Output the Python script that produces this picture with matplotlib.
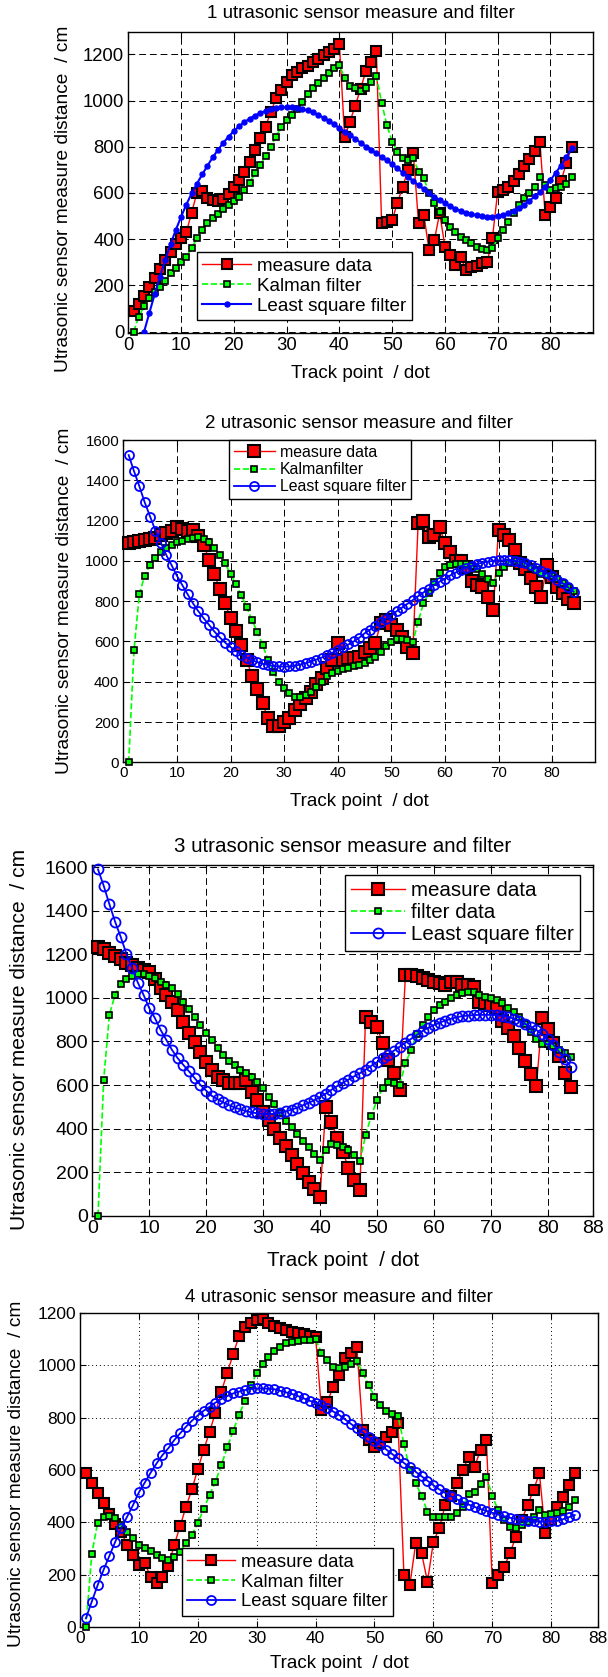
import numpy as np
import matplotlib
matplotlib.use("Agg")
import matplotlib.pyplot as plt

plt.rcParams['font.family'] = ['Liberation Sans', 'DejaVu Sans']

W, H = 608, 1677

track = list(range(1, 85))

# panel 1
meas_1 = [90, 120, 155, 195, 230, 270, 310, 345, 380, 405,
          430, 515, 600, 610, 580, 570, 565, 575, 595, 625,
          655, 690, 735, 785, 837, 887, 950, 1010, 1046, 1082,
          1110, 1125, 1140, 1150, 1165, 1180, 1195, 1210, 1225, 1245,
          841, 909, 977, 1050, 1126, 1168, 1216, 470, 476, 483,
          557, 627, 700, 772, 470, 505, 353, 396, 513, 368,
          332, 289, 323, 267, 281, 285, 296, 300, 405, 606,
          612, 625, 650, 680, 715, 745, 780, 820, 505, 541,
          578, 650, 729, 798]
kal_1 = [0, 65, 110, 145, 173, 195, 220, 252, 274, 303,
         325, 360, 404, 440, 469, 490, 510, 530, 550, 565,
         584, 613, 645, 685, 721, 760, 800, 844, 887, 915,
         937, 965, 995, 1028, 1053, 1075, 1096, 1118, 1139, 1155,
         1096, 1063, 1053, 1043, 1053, 1082, 1106, 991, 894, 822,
         779, 750, 743, 750, 692, 664, 599, 556, 519, 483,
         454, 433, 411, 397, 382, 368, 356, 353, 360, 404,
         440, 476, 512, 548, 577, 599, 627, 670, 635, 612,
         620, 627, 641, 670]
lsq_1 = [-175, -85, 0, 82, 162, 238, 310, 378, 440, 497,
         550, 598, 640, 680, 718, 754, 787, 817, 844, 868,
         889, 907, 922, 935, 946, 955, 962, 967, 970, 971,
         970, 967, 963, 957, 950, 938, 926, 912, 897, 881,
         866, 851, 835, 818, 801, 786, 771, 756, 741, 724,
         706, 688, 670, 652, 634, 617, 600, 584, 569, 555,
         543, 532, 523, 515, 509, 504, 500, 498, 498, 500,
         505, 513, 523, 535, 549, 566, 585, 605, 627, 655,
         688, 718, 755, 794]

# panel 2
meas_2 = [1090, 1092, 1097, 1103, 1108, 1115, 1130, 1140, 1150, 1170,
          1160, 1150, 1155, 1125, 1080, 1005, 935, 860, 790, 715,
          650, 582, 510, 430, 362, 293, 218, 182, 180, 200,
          218, 260, 290, 320, 350, 390, 420, 470, 510, 590,
          508, 516, 519, 524, 549, 566, 590, 690, 706, 680,
          657, 620, 574, 541, 1186, 1199, 1120, 1130, 1169, 1087,
          1045, 1000, 1000, 970, 900, 880, 870, 822, 756, 1153,
          1130, 1103, 1054, 988, 960, 913, 872, 822, 979, 921,
          870, 839, 810, 789]
kal_2 = [0, 558, 836, 927, 981, 1013, 1045, 1065, 1080, 1092,
         1100, 1108, 1115, 1120, 1110, 1095, 1062, 1029, 988, 935,
         885, 830, 772, 706, 648, 582, 508, 450, 400, 370,
         345, 325, 325, 333, 350, 375, 400, 430, 445, 455,
         462, 470, 478, 485, 495, 508, 525, 550, 575, 598,
         610, 612, 605, 595, 698, 789, 839, 896, 938, 971,
         979, 982, 983, 983, 975, 960, 935, 910, 888, 938,
         970, 990, 1000, 995, 985, 970, 955, 935, 930, 925,
         910, 890, 870, 850]
lsq_2 = [1525, 1445, 1370, 1290, 1220, 1150, 1090, 1030, 979, 926,
         880, 834, 789, 750, 715, 682, 649, 620, 594, 572,
         553, 535, 520, 507, 497, 489, 483, 479, 476, 475,
         476, 479, 485, 492, 500, 510, 520, 531, 544, 557,
         570, 585, 600, 618, 640, 658, 676, 695, 713, 731,
         750, 768, 787, 805, 825, 843, 862, 880, 897, 912,
         928, 942, 955, 966, 976, 984, 991, 996, 1000, 1002,
         1003, 1002, 1000, 996, 990, 978, 966, 952, 938, 923,
         905, 888, 868, 847]

# panel 3
meas_3 = [1233, 1224, 1205, 1190, 1178, 1160, 1152, 1136, 1128, 1120,
          1086, 1044, 1014, 983, 945, 891, 838, 799, 753, 707,
          669, 639, 623, 611, 608, 611, 623, 570, 531, 478,
          440, 397, 355, 320, 279, 237, 198, 156, 121, 87,
          501, 432, 355, 294, 218, 164, 118, 914, 891, 868,
          792, 715, 654, 577, 1106, 1106, 1100, 1090, 1083, 1075,
          1067, 1060, 1072, 1072, 1060, 1060, 1052, 983, 975, 965,
          953, 893, 860, 824, 771, 709, 651, 595, 906, 855,
          794, 733, 657, 589]
kal_3 = [0, 623, 922, 1014, 1064, 1086, 1100, 1110, 1109, 1101,
         1090, 1075, 1060, 1044, 1018, 983, 948, 914, 876, 838,
         807, 769, 738, 712, 692, 669, 654, 635, 615, 585,
         547, 511, 470, 435, 405, 375, 345, 315, 285, 256,
         300, 330, 325, 315, 300, 280, 250, 370, 458, 531,
         585, 615, 608, 600, 700, 761, 834, 876, 914, 945,
         968, 983, 998, 1014, 1021, 1029, 1025, 1014, 1006, 998,
         991, 975, 955, 935, 910, 880, 845, 810, 790, 790,
         780, 760, 745, 730]
lsq_3 = [1590, 1515, 1430, 1350, 1279, 1202, 1136, 1070, 1014, 953,
         907, 853, 807, 761, 723, 692, 662, 631, 600, 574,
         550, 535, 520, 508, 497, 488, 480, 474, 470, 467,
         466, 468, 473, 479, 487, 496, 507, 518, 530, 545,
         560, 578, 595, 610, 625, 640, 654, 670, 688, 705,
         722, 740, 758, 776, 794, 812, 830, 848, 862, 875,
         886, 896, 904, 911, 916, 919, 921, 922, 922, 922,
         920, 917, 913, 905, 893, 881, 868, 853, 832, 810,
         785, 752, 720, 684]

# panel 4
meas_4 = [590, 552, 513, 473, 432, 395, 365, 314, 276, 238,
          244, 193, 168, 193, 234, 314, 386, 460, 526, 603,
          676, 746, 819, 899, 971, 1041, 1111, 1147, 1159, 1172,
          1175, 1159, 1149, 1140, 1134, 1127, 1122, 1117, 1113, 1108,
          829, 860, 918, 962, 1026, 1045, 1070, 752, 714, 689,
          702, 725, 746, 778, 199, 161, 320, 282, 174, 326,
          377, 466, 500, 552, 600, 651, 613, 676, 714, 168,
          199, 231, 282, 346, 410, 466, 524, 587, 359, 410,
          460, 498, 543, 590]
kal_4 = [0, 280, 399, 422, 425, 416, 390, 365, 339, 314,
         301, 290, 276, 263, 257, 267, 289, 320, 352, 399,
         450, 505, 555, 619, 686, 749, 810, 863, 924, 969,
         1004, 1032, 1054, 1070, 1083, 1089, 1093, 1096, 1097, 1098,
         1047, 1019, 994, 990, 994, 1005, 1016, 971, 924, 880,
         848, 826, 813, 806, 699, 600, 549, 501, 441, 422,
         420, 422, 422, 437, 458, 509, 517, 545, 574, 501,
         447, 409, 384, 378, 390, 403, 422, 447, 428, 432,
         435, 445, 460, 486]
lsq_4 = [34, 98, 161, 219, 273, 327, 378, 422, 466, 515,
         552, 590, 625, 657, 683, 714, 740, 765, 788, 808,
         826, 841, 857, 871, 882, 892, 899, 905, 909, 911,
         911, 910, 908, 902, 896, 890, 882, 873, 864, 857,
         848, 836, 823, 810, 793, 776, 759, 743, 726, 710,
         695, 678, 661, 644, 627, 610, 593, 576, 559, 542,
         526, 513, 500, 488, 478, 468, 459, 451, 444, 437,
         430, 424, 418, 413, 409, 406, 404, 403, 403, 404,
         406, 412, 420, 428]

titles = ["1 utrasonic sensor measure and filter",
          "2 utrasonic sensor measure and filter",
          "3 utrasonic sensor measure and filter",
          "4 utrasonic sensor measure and filter"]
legends = [["measure data", "Kalman filter", "Least square filter"],
           ["measure data", "Kalmanfilter", "Least square filter"],
           ["measure data", "filter data", "Least square filter"],
           ["measure data", "Kalman filter", "Least square filter"]]
xlab = "Track point  / dot"
ylab = "Utrasonic sensor measure distance  / cm"

# layout in pixels: axes box (left, top, right, bottom), ylim, text sizes
panels = [
    dict(box=(128.3, 31.7, 592.7, 333.0), ylim=(-6, 1298), ymax=1200, x88=False,
         tick=13.3, lab=13.5, leg=13.6, title_y=14, xlab_y=374, ylab_x=64, ylab_y=199,
         leg_xy=(196.7, 251.7), grid=(0, (7, 4)),
         ms_m=7.5, ms_k=4.3, lsq_open=False, ms_b=3.6),
    dict(box=(123.3, 440.0, 595.0, 762.3), ylim=(0, 1600), ymax=1600, x88=False,
         tick=10.8, lab=13.5, leg=11.4, title_y=424, xlab_y=801, ylab_x=65, ylab_y=601,
         leg_xy=(229, 440), grid=(0, (7, 4)),
         ms_m=8.2, ms_k=4.8, lsq_open=True, ms_b=6.5),
    dict(box=(92.3, 865.0, 593.3, 1215.7), ylim=(0, 1610), ymax=1600, x88=True,
         tick=14.0, lab=14.8, leg=14.8, title_y=846, xlab_y=1260, ylab_x=20, ylab_y=1039,
         leg_xy=(345, 875), grid=(0, (7, 4)),
         ms_m=8.6, ms_k=4.8, lsq_open=True, ms_b=7.2),
    dict(box=(80.0, 1312.7, 598.3, 1627.3), ylim=(0, 1200), ymax=1200, x88=True,
         tick=12.5, lab=13.5, leg=13.3, title_y=1297, xlab_y=1664, ylab_x=17, ylab_y=1474,
         leg_xy=(181.7, 1548.3), grid=(0, (1, 3)),
         ms_m=7.9, ms_k=4.3, lsq_open=True, ms_b=6.5),
]
series = [(meas_1, kal_1, lsq_1), (meas_2, kal_2, lsq_2),
          (meas_3, kal_3, lsq_3), (meas_4, kal_4, lsq_4)]

fig = plt.figure(figsize=(W / 100, H / 100), dpi=100)

for i, p in enumerate(panels):
    l, t, r, b = p["box"]
    ax = fig.add_axes([l / W, 1 - b / H, (r - l) / W, (b - t) / H])
    meas, kal, lsq = series[i]

    ax.plot(track, meas, color="red", lw=1.0, marker="s", ms=p["ms_m"],
            mfc="red", mec="black", mew=1.5, label=legends[i][0], clip_on=False, zorder=3)
    ax.plot(track, kal, color="#00ff00", lw=1.2, ls="--", marker="s", ms=p["ms_k"],
            mfc="#00ff00", mec="black", mew=1.2, label=legends[i][1], clip_on=False, zorder=4)
    if p["lsq_open"]:
        ax.plot(track, lsq, color="blue", lw=1.3, marker="o", ms=p["ms_b"],
                mfc="none", mec="blue", mew=1.3, label=legends[i][2], clip_on=False, zorder=5)
    else:
        ax.plot(track, lsq, color="blue", lw=1.5, marker="o", ms=p["ms_b"],
                mfc="blue", mec="blue", label=legends[i][2], zorder=5)

    ax.set_xlim(0, 88)
    ax.set_ylim(*p["ylim"])
    xt = list(range(0, 81, 10)) + ([88] if p["x88"] else [])
    ax.set_xticks(xt)
    ax.set_yticks(range(0, p["ymax"] + 1, 200))
    ax.grid(True, color="black", lw=0.7, ls=p["grid"])
    ax.set_axisbelow(True)
    ax.tick_params(direction="in", top=True, right=True, length=4, width=0.8,
                   labelsize=p["tick"], pad=3)
    for s in ax.spines.values():
        s.set_linewidth(1.0)

    leg = ax.legend(loc="upper left", bbox_to_anchor=(p["leg_xy"][0] / W, 1 - p["leg_xy"][1] / H),
                    bbox_transform=fig.transFigure, borderaxespad=0, fontsize=p["leg"],
                    fancybox=False, framealpha=1, edgecolor="black", handlelength=2.6,
                    handletextpad=0.3, borderpad=0.3, labelspacing=0.15)
    leg.get_frame().set_linewidth(1.0)
    leg.set_zorder(10)

    cx = (l + r) / 2
    fig.text(cx / W, 1 - p["title_y"] / H, titles[i], ha="center", va="center", fontsize=p["lab"])
    fig.text(cx / W, 1 - p["xlab_y"] / H, xlab, ha="center", va="center", fontsize=p["lab"])
    fig.text(p["ylab_x"] / W, 1 - p["ylab_y"] / H, ylab, ha="center", va="center",
             rotation=90, fontsize=p["lab"] + 0.3)

fig.savefig("out.png", dpi=100)
